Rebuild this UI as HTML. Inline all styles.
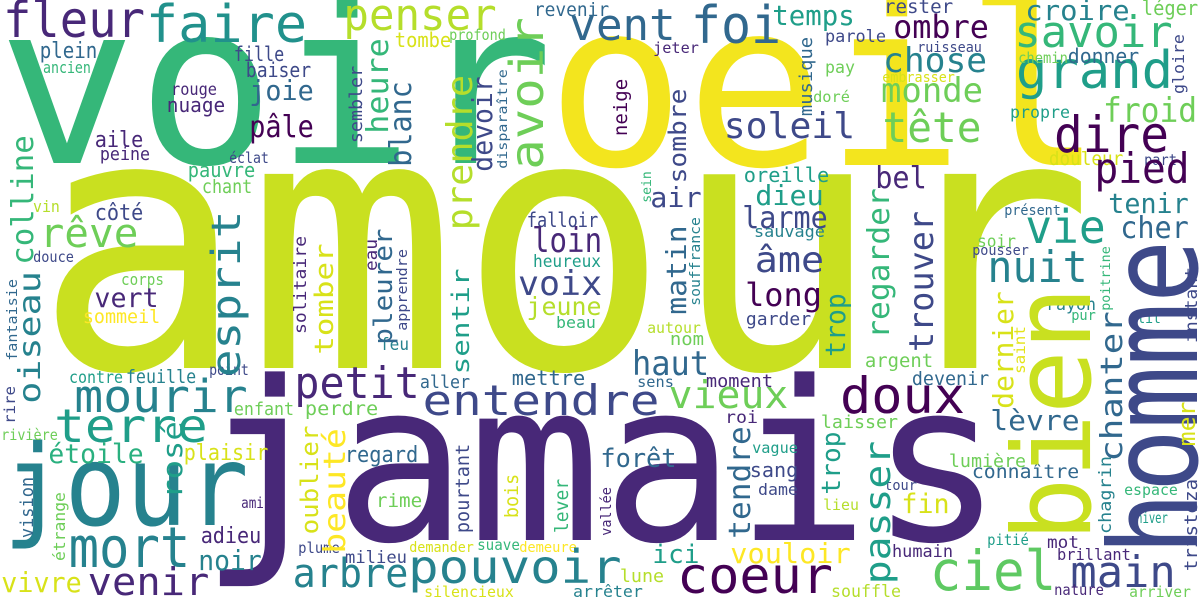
<!DOCTYPE html>
<html><head><meta charset="utf-8"><style>
html,body{margin:0;padding:0;background:#fff;}
svg{display:block;}
text{font-family:"DejaVu Sans Mono","Liberation Mono",monospace;}
</style></head><body>
<svg id="cloud" xmlns="http://www.w3.org/2000/svg" width="1200" height="600" viewBox="0 0 1200 600">
<rect width="1200" height="600" fill="#fff"/>
</svg>
<script>
const A='#440154',B='#482878',C='#3e4989',D='#31688e',E='#26828e',F='#1f9e89',G='#35b779',H='#6ece58',I='#b5de2b',J='#fde725',L='#c9e020',Y='#f3e51e',K='#d8e219';
// horizontal: [text, inkLeft, baseline, size, inkWidth, color]
const hWords=[
['amour',55,368,355,1018,L],['jamais',213,540,222,777,B],['voir',11,163,225,529,G],['oeil',560,165,230,530,Y],['jour',10,525,112,232,E],
['fleur',6,37,50,136,B],['faire',149,42,52,155,'#21918c'],['penser',346,30,44,148,I],['revenir',535,16,19,73,D],
['vent',572,40,44,101,D],['foi',694,43,52,84,D],['temps',774,25,28,79,F],['rester',885,13,19,67,C],['croire',1027,20,28,101,E],['léger',1143,15,20,54,H],
['savoir',1017,47,44,153,G],['ombre',895,38,32,92,A],['parole',826,42,17,59,C],['jeter',654,53,15,44,B],['ruisseau',918,52,14,63,C],
['chose',885,72,34,100,E],['grand',1019,88,52,151,F],['chemin',1019,63,15,48,H],['donner',1069,63,20,69,D],['pay',826,73,17,28,H],
['embrasser',883,82,14,71,K],['monde',883,102,34,98,H],['doré',814,102,15,35,H],['soleil',726,138,36,127,C],['tête',885,142,42,94,H],
['froid',1105,122,34,90,H],['propre',1011,118,17,58,F],['dire',1057,152,50,109,A],['douleur',1050,165,19,72,K],['part',1145,165,15,31,C],
['pied',1097,183,42,90,A],['tenir',1110,213,28,77,E],['cher',1122,238,30,65,D],['vie',1028,243,46,75,F],['présent',1005,215,14,55,D],
['soir',978,247,17,37,H],['pousser',973,255,14,55,C],['nuit',990,282,44,95,E],['air',652,207,28,48,C],['oreille',745,182,20,83,F],
['dieu',757,205,28,65,F],['larme',744,228,30,82,C],['sauvage',755,237,16,69,E],['âme',757,272,36,65,C],['long',747,306,32,73,A],
['bel',877,188,30,48,B],['plein',41,58,22,55,D],['ancien',44,73,16,46,G],['fille',235,61,20,48,C],['baiser',247,77,20,63,C],
['rouge',172,95,17,44,B],['nuage',168,112,20,56,B],['joie',251,100,28,61,D],['pâle',251,137,30,61,A],['tombe',396,47,20,54,K],
['profond',450,40,15,55,H],['aile',96,147,22,46,B],['peine',101,160,18,48,B],['éclat',230,163,15,38,C],['pauvre',189,177,20,65,G],
['chant',203,193,19,48,H],['côté',96,220,22,46,C],['rêve',42,247,40,94,H],['vin',34,212,16,25,I],['douce',34,262,15,39,C],
['corps',122,285,16,41,H],['vert',96,307,27,61,B],['sommeil',84,323,19,75,J],['falloir',528,227,20,69,C],['loin',534,252,34,66,B],
['heureux',534,267,17,66,F],['voix',520,295,34,80,C],['jeune',528,315,25,72,I],['beau',557,328,16,38,G],['feu',381,350,17,27,E],
['contre',70,383,17,52,F],['feuille',127,383,19,68,E],['point',210,375,15,38,C],['petit',297,398,44,120,B],['aller',421,388,18,48,D],
['mettre',513,385,20,71,D],['entendre',425,415,42,232,C],['enfant',235,415,18,58,H],['perdre',306,415,19,71,H],['mourir',77,412,45,168,E],
['terre',57,442,46,148,F],['étoile',50,463,27,92,'#2ab07f'],['plaisir',185,460,22,82,K],['rivière',2,440,15,55,H],['regard',346,462,22,71,D],
['ami',242,508,15,21,B],['adieu',202,543,22,58,B],['noir',200,570,28,60,E],['vivre',3,592,28,77,K],['venir',90,595,38,117,B],
['mort',72,567,56,115,E],['rime',377,507,19,44,H],['demander',410,552,14,63,K],['suave',478,550,15,41,G],['demeure',520,552,14,56,J],
['silencieux',425,597,15,88,K],['milieu',346,563,17,60,C],['plume',299,553,15,40,C],['arbre',295,587,40,111,E],['pouvoir',411,583,46,208,E],
['garder',747,325,18,63,C],['autour',648,333,15,52,I],['nom',671,345,18,32,H],['haut',634,375,34,73,D],['sens',638,387,15,35,D],
['moment',707,387,18,65,B],['argent',866,367,19,66,H],['devenir',913,385,19,75,D],['rayon',1047,310,17,48,E],['pur',1072,320,14,23,G],
['lit',1138,323,14,22,F],['laisser',822,428,18,75,H],['lèvre',992,430,28,86,D],['roi',726,423,17,31,B],['doux',843,413,50,119,A],
['vieux',671,408,38,115,H],['forêt',602,467,26,73,D],['vague',753,453,15,44,F],['sang',751,477,20,46,C],['dame',759,495,16,38,C],
['lieu',824,510,15,34,I],['fin',903,513,27,45,K],['tour',885,490,14,31,C],['lumière',950,467,18,75,H],['connaître',973,478,19,105,D],
['espace',1125,495,15,52,G],['hiver',1137,523,15,30,F],['pitié',988,545,15,40,F],['mot',1048,548,17,30,B],['brillant',1058,560,16,72,B],
['humain',893,557,17,59,B],['ici',654,563,26,44,F],['vouloir',732,563,28,117,J],['ciel',933,590,55,120,'#5ec962'],['main',1073,587,44,100,C],
['coeur',680,593,50,150,A],['lune',621,582,18,42,I],['souffle',832,597,17,68,I],['nature',1055,595,15,48,B],['arriver',1130,597,15,60,H],
['arrêter',574,597,16,68,E]
];
// vertical (reading upward): [text, baselineX, bottomY, size, length, color]
const vWords=[
['homme',1197,548,122,301,C],['bien',1090,535,108,242,L],
['gloire',1184,93,16,58,C],['musique',812,115,18,77,D],['neige',627,135,19,55,A],['sombre',686,182,24,92,C],
['sein',651,202,13,30,G],['matin',686,313,28,86,D],['souffrance',700,305,14,87,E],['regarder',889,337,30,147,G],
['trouver',933,350,34,137,C],['trop',840,493,26,60,F],['trop',845,355,28,60,F],['poitrine',1110,310,13,63,G],['instant',1197,342,17,74,C],
['dernier',1013,407,28,114,K],['saint',1025,373,15,46,'#e4e419'],['chanter',1122,460,30,147,D],['mer',1195,445,24,42,K],
['tendre',750,537,30,109,D],['passer',890,582,36,139,F],['chagrin',1111,533,17,76,E],['tristeza',1197,570,18,90,C],['vallée',611,535,14,47,B],
['colline',33,263,30,126,G],['oiseau',40,402,30,129,E],['fantaisie',17,360,14,80,D],['rire',15,423,15,36,C],['vision',33,537,18,59,D],
['étrange',65,560,16,67,H],['rosé',182,497,28,74,F],['oublier',318,533,24,106,K],['beauté',345,552,30,122,J],['pourtant',469,532,19,87,C],
['bois',518,517,19,42,K],['lever',568,532,19,52,G],['esprit',240,375,40,162,E],['solitaire',306,333,17,96,B],['tomber',333,353,26,108,K],
['eau',377,270,17,30,B],['pleurer',392,343,26,113,D],['apprendre',407,330,14,80,C],['sentir',469,373,24,103,F],['prendre',472,228,36,151,I],
['avoir',543,167,46,147,H],['devoir',492,170,28,92,C],['disparaître',507,168,13,98,D],['sembler',362,142,18,75,C],['heure',388,132,30,92,G],
['blanc',411,165,30,82,D]
];
const svg=document.getElementById('cloud');
const NS='http://www.w3.org/2000/svg';
for(const w of hWords){
  const [t,x,y,s,wd,c]=w;
  const el=document.createElementNS(NS,'text');
  el.setAttribute('x',(x-0.06*s).toFixed(1));
  el.setAttribute('y',y);
  el.setAttribute('font-size',s);
  el.setAttribute('fill',c);
  el.setAttribute('textLength',(wd+0.12*s).toFixed(1));
  el.setAttribute('lengthAdjust','spacingAndGlyphs');
  
  
  el.textContent=t;
  svg.appendChild(el);
}
for(const w of vWords){
  const [t,bx,by,s,len,c]=w;
  const el=document.createElementNS(NS,'text');
  el.setAttribute('x',0);
  el.setAttribute('y',0);
  el.setAttribute('transform','translate('+bx+','+(by+0.06*s).toFixed(1)+') rotate(-90)');
  el.setAttribute('font-size',s);
  el.setAttribute('fill',c);
  el.setAttribute('textLength',(len+0.12*s).toFixed(1));
  el.setAttribute('lengthAdjust','spacingAndGlyphs');
  
  
  el.textContent=t;
  svg.appendChild(el);
}
</script>
</body></html>
